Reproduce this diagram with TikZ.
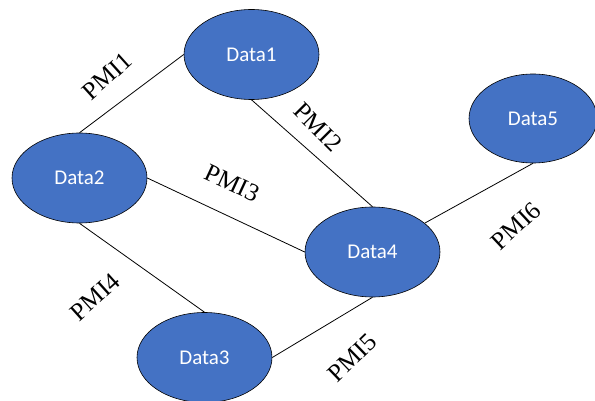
\documentclass[tikz,border=0pt]{standalone}
\usepackage{fontspec}
\setmainfont{Liberation Serif}
\newfontfamily\datafont{Carlito}
\usepackage{tikz}
\usetikzlibrary{shapes.geometric, positioning}

\definecolor{datablue}{HTML}{4472C4}

\begin{document}
\begin{tikzpicture}[x=1pt,y=-1pt,
	data/.style={shape=ellipse,draw=black,line width=0.6pt,fill=datablue,text=white,minimum width=135pt,minimum height=90pt,font=\datafont\fontsize{21}{25}\selectfont},
	pmi/.style={font=\fontsize{25}{29}\selectfont,inner sep=0pt}]
	\useasboundingbox (0,0) rectangle (595,401);
	\node[data] (D1) at (251.5,54.5) {Data1};
	\node[data] (D2) at (79.5,178) {Data2};
	\node[data] (D3) at (204.5,357.5) {Data3};
	\node[data] (D4) at (372.5,252) {Data4};
	\node[data,minimum width=128pt,minimum height=89pt] (D5) at (533,118.5) {Data5};
	
	\path [line width=0.8pt] (D1.west) edge node {} (D2.north);
	\path [line width=0.8pt] (D1.south) edge node {} (D4.north);
	\path [line width=0.8pt] (D2.east) edge node {} (D4.west);
	\path [line width=0.8pt] (D2.south) edge node {} (D3.north);
	\path [line width=0.8pt] (D3.east) edge node {} (D4.south);
	\path [line width=0.8pt] (D4) edge node {} (D5.south);
	
	\node[pmi,rotate=42] (P1) at (107,76) {PMI1};
	\node[pmi,rotate=-45] (P2) at (318,127) {PMI2};
	\node[pmi,rotate=-25] (P3) at (232,183) {PMI3};
	\node[pmi,rotate=42] (P4) at (95,297) {PMI4};
	\node[pmi,rotate=44] (P5) at (352,358) {PMI5};
	\node[pmi,rotate=43] (P6) at (516,226) {PMI6};
\end{tikzpicture}
\end{document}
